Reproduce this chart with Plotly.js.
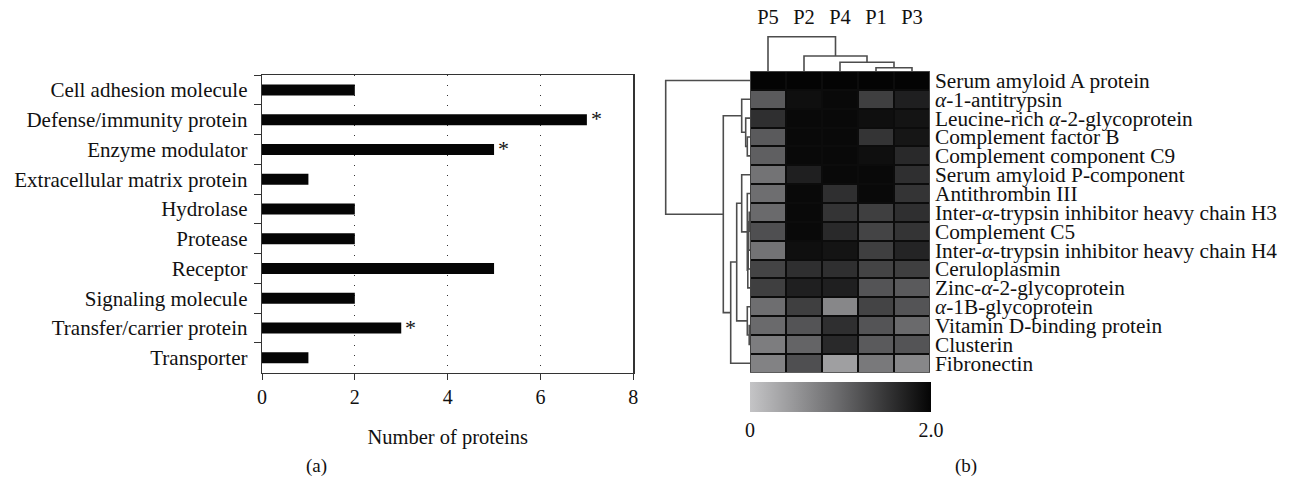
<!DOCTYPE html>
<html>
<head>
<meta charset="utf-8">
<script src="https://cdn.plot.ly/plotly-3.0.1.min.js"></script>
<style>html,body{margin:0;padding:0;background:#fff;}#chart{width:1294px;height:483px;}</style>
</head>
<body>
<div id="chart"></div>
<script>
// ---- Panel (a) data ----
const categories = ['Cell adhesion molecule','Defense/immunity protein','Enzyme modulator','Extracellular matrix protein','Hydrolase','Protease','Receptor','Signaling molecule','Transfer/carrier protein','Transporter'];
const counts = [2, 7, 5, 1, 2, 2, 5, 2, 3, 1];
const significant = [false, true, true, false, false, false, false, false, true, false];
const countTicks = [0, 2, 4, 6, 8];

// ---- Panel (b) data ----
const samples = ['P5', 'P2', 'P4', 'P1', 'P3'];
const proteins = ['Serum amyloid A protein','<i>α</i>-1-antitrypsin','Leucine-rich <i>α</i>-2-glycoprotein','Complement factor B','Complement component C9','Serum amyloid P-component','Antithrombin III','Inter-<i>α</i>-trypsin inhibitor heavy chain H3','Complement C5','Inter-<i>α</i>-trypsin inhibitor heavy chain H4','Ceruloplasmin','Zinc-<i>α</i>-2-glycoprotein','<i>α</i>-1B-glycoprotein','Vitamin D-binding protein','Clusterin','Fibronectin'];
const expression = [
  [2.00, 2.00, 2.00, 2.00, 2.00],
  [1.14, 1.89, 1.95, 1.41, 1.73],
  [1.57, 1.95, 1.95, 1.89, 1.84],
  [1.14, 1.95, 1.95, 1.52, 1.82],
  [1.09, 1.95, 1.95, 1.89, 1.63],
  [0.88, 1.73, 1.95, 1.95, 1.57],
  [0.93, 1.95, 1.57, 1.95, 1.52],
  [0.98, 1.95, 1.52, 1.41, 1.57],
  [1.25, 1.95, 1.63, 1.36, 1.52],
  [0.88, 1.89, 1.84, 1.41, 1.68],
  [1.36, 1.57, 1.57, 1.36, 1.41],
  [1.41, 1.73, 1.73, 1.20, 1.14],
  [0.93, 1.41, 0.66, 1.36, 1.20],
  [0.98, 1.20, 1.57, 1.20, 0.98],
  [0.77, 1.04, 1.63, 1.14, 1.20],
  [0.72, 1.25, 0.40, 0.82, 0.66]
];
const colorTicks = [0, 2];
const colorTickText = ['0', '2.0'];
// linkage: [child A, child B, merge height]; ids >= nLeaves are earlier merges
const rowLinkage = [
  [3, 4, 2.7], [2, 16, 4.3], [1, 17, 8.3],
  [7, 8, 0.8], [19, 9, 1.3], [20, 10, 1.8], [21, 11, 2.2], [6, 22, 2.7], [5, 23, 8.3],
  [13, 14, 0.8], [12, 25, 2.7], [24, 26, 13.3], [27, 15, 19.3], [18, 28, 26.7], [0, 29, 84.3]
];
const colLinkage = [[3, 4, 3.3], [2, 5, 8.7], [1, 6, 15.0], [0, 7, 34.3]];

function dendro(linkage, nLeaves) {
  const pos = [], hgt = [];
  for (let i = 0; i < nLeaves; i++) { pos.push(i); hgt.push(0); }
  const P = [], H = [];
  linkage.forEach(([a, b, h]) => {
    P.push(pos[a], pos[a], pos[b], pos[b], null);
    H.push(hgt[a], h, h, hgt[b], null);
    pos.push((pos[a] + pos[b]) / 2); hgt.push(h);
  });
  return {P, H};
}
const rd = dendro(rowLinkage, proteins.length);
const cd = dendro(colLinkage, samples.length);

const W = 1294, Hh = 483;
const px = v => v / W, py = v => 1 - v / Hh;
const FONT = 'Liberation Serif, Times New Roman, serif';
const TXT = '#111';

const traces = [
  {type: 'bar', orientation: 'h', x: counts, y: categories, xaxis: 'x', yaxis: 'y',
   marker: {color: '#050505', line: {width: 0}}, width: 0.37, hoverinfo: 'none'},
  {type: 'heatmap', z: expression, x: samples.map((s, i) => i), y: proteins.map((p, i) => i),
   xaxis: 'x2', yaxis: 'y2', zmin: 0, zmax: 2, xgap: 2, ygap: 2,
   colorscale: [[0, 'rgb(196,196,198)'], [0.5, 'rgb(104,104,106)'], [1, 'rgb(4,4,4)']],
   colorbar: {orientation: 'h', x: px(750), xanchor: 'left', y: py(382), yanchor: 'top',
     len: 181, lenmode: 'pixels', thickness: 30, thicknessmode: 'pixels', outlinewidth: 0,
     xpad: 0, ypad: 0, tickvals: colorTicks, ticktext: colorTickText, ticks: '',
     tickfont: {family: FONT, size: 20, color: TXT}}},
  {type: 'scatter', mode: 'lines', x: rd.H, y: rd.P, xaxis: 'x3', yaxis: 'y3',
   line: {color: '#4d4d4d', width: 1.6}, hoverinfo: 'none', connectgaps: false},
  {type: 'scatter', mode: 'lines', x: cd.P, y: cd.H, xaxis: 'x4', yaxis: 'y4',
   line: {color: '#4d4d4d', width: 1.6}, hoverinfo: 'none', connectgaps: false}
];

const annotations = [];
categories.forEach((c, i) => {
  if (significant[i]) annotations.push({xref: 'x', yref: 'y', x: counts[i], y: c, text: '*',
    showarrow: false, xanchor: 'left', yanchor: 'middle', xshift: 2, yshift: 1,
    font: {family: FONT, size: 22, color: TXT}});
});
annotations.push({xref: 'paper', yref: 'paper', x: px(316), y: py(466), text: '(a)', showarrow: false,
  xanchor: 'center', yanchor: 'middle', font: {family: FONT, size: 19, color: TXT}});
annotations.push({xref: 'paper', yref: 'paper', x: px(966), y: py(466), text: '(b)', showarrow: false,
  xanchor: 'center', yanchor: 'middle', font: {family: FONT, size: 19, color: TXT}});

const hidden = {visible: false, showgrid: false, zeroline: false, fixedrange: true};
const layout = {
  width: W, height: Hh, margin: {l: 0, r: 0, t: 0, b: 0}, showlegend: false,
  paper_bgcolor: '#fff', plot_bgcolor: '#fff',
  font: {family: FONT, color: TXT, size: 20},
  xaxis: {domain: [px(262), px(633.3)], range: [0, 8], tickvals: countTicks, ticks: 'outside', ticklen: 6,
    tickcolor: '#333', showline: true, mirror: true, linecolor: '#333', linewidth: 1.3,
    showgrid: true, griddash: '1px,9px', gridcolor: '#333', gridwidth: 1.2, zeroline: false, anchor: 'y',
    tickfont: {family: FONT, size: 20, color: TXT},
    title: {text: 'Number of proteins', font: {family: FONT, size: 20.5, color: TXT}, standoff: 22}},
  yaxis: {domain: [py(372.7), py(75)], type: 'category', autorange: 'reversed', tickson: 'boundaries',
    ticks: 'outside', ticklen: 7, tickcolor: '#333', showline: true, mirror: true, linecolor: '#333',
    linewidth: 1.3, showgrid: false, zeroline: false, anchor: 'x', ticklabelstandoff: 9,
    tickfont: {family: FONT, size: 21, color: TXT}},
  xaxis2: {domain: [px(750), px(930)], range: [-0.5, 4.5], side: 'top', tickvals: [0, 1, 2, 3, 4],
    ticktext: samples, ticks: '', showgrid: false, zeroline: false, showline: false, anchor: 'y2',
    ticklabelstandoff: 42, tickfont: {family: FONT, size: 20.5, color: TXT}},
  yaxis2: {domain: [py(372.7), py(71)], range: [15.5, -0.5], side: 'right', tickvals: proteins.map((p, i) => i),
    ticktext: proteins, ticks: '', showgrid: false, zeroline: false, showline: false, anchor: 'x2',
    ticklabelstandoff: 4, tickfont: {family: FONT, size: 21.3, color: TXT}},
  xaxis3: Object.assign({domain: [px(660), px(750)], range: [90, 0], anchor: 'y3'}, hidden),
  yaxis3: Object.assign({domain: [py(372.7), py(71)], range: [15.5, -0.5], anchor: 'x3'}, hidden),
  xaxis4: Object.assign({domain: [px(750), px(930)], range: [-0.5, 4.5], anchor: 'y4'}, hidden),
  yaxis4: Object.assign({domain: [py(71), py(30)], range: [0, 41], anchor: 'x4'}, hidden),
  shapes: [{type: 'rect', xref: 'x2', yref: 'y2', x0: -0.5, x1: 4.5, y0: -0.5, y1: 15.5, layer: 'below',
    fillcolor: '#0c0c0c', line: {color: '#555', width: 1.5}}],
  annotations: annotations
};

Plotly.newPlot('chart', traces, layout, {staticPlot: true, displayModeBar: false});
</script>
</body>
</html>
